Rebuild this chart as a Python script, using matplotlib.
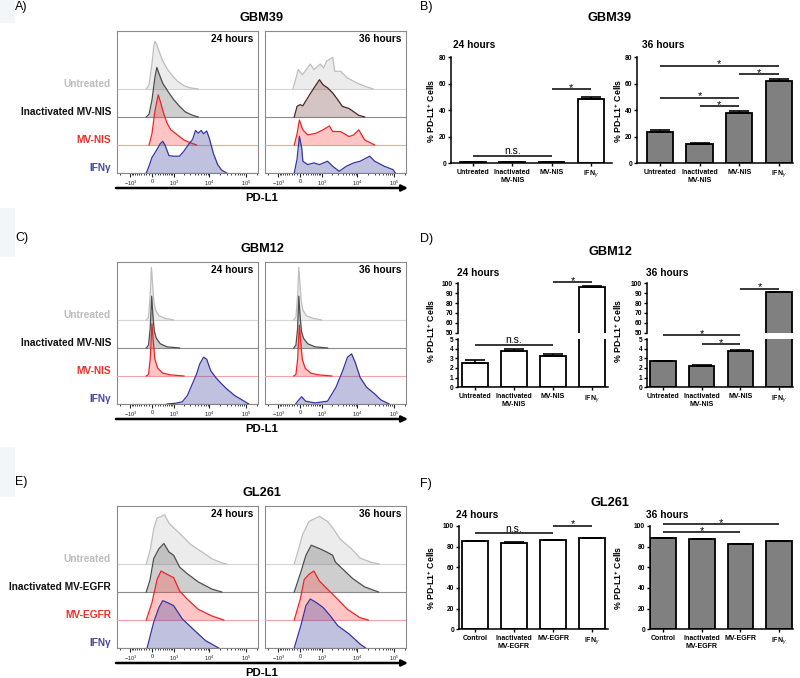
import numpy as np
import matplotlib
matplotlib.use('Agg')
import matplotlib.pyplot as plt
from matplotlib.ticker import FixedLocator
from matplotlib.patches import FancyArrowPatch, Rectangle
from matplotlib.transforms import blended_transform_factory

plt.rcParams['font.family'] = ['Liberation Sans', 'DejaVu Sans']
plt.rcParams['mathtext.fontset'] = 'custom'
plt.rcParams['mathtext.rm'] = 'Liberation Sans'
plt.rcParams['mathtext.it'] = 'Liberation Sans:italic'
plt.rcParams['mathtext.bf'] = 'Liberation Sans:bold'

# ---------------- histogram data: (PD-L1 value, height in row units) ----------------
gbm39_24h_untreated = [(-200, 0), (-100, 0.15), (0, 0.9), (60, 1.5), (100, 1.70), (150, 1.62), (250, 1.35),
                       (400, 1.0), (600, 0.72), (800, 0.55), (1000, 0.42), (1300, 0.28), (2000, 0.12),
                       (3000, 0.04), (5000, 0)]
gbm39_24h_inactivated = [(-200, 0), (-100, 0.1), (0, 0.6), (100, 1.4), (170, 1.77), (250, 1.55), (400, 1.2),
                         (700, 0.86), (1000, 0.62), (1500, 0.38), (2200, 0.18), (3500, 0.06), (5000, 0)]
gbm39_24h_mv = [(-100, 0), (0, 0.4), (100, 1.2), (220, 1.79), (300, 1.55), (450, 1.1), (600, 0.78),
                (800, 0.55), (1500, 0.3), (2000, 0.18), (3000, 0.08), (4500, 0)]
gbm39_24h_ifn = [(-200, 0), (-100, 0.25), (0, 0.55), (150, 0.8), (300, 1.05), (400, 1.13), (500, 1.0),
                 (700, 0.62), (1000, 0.6), (1500, 0.6), (2000, 0.78), (2800, 1.05), (3500, 1.2), (4200, 1.52),
                 (5000, 1.42), (6000, 1.52), (7000, 1.40), (8500, 1.5), (10000, 1.25), (13000, 0.7),
                 (17000, 0.3), (22000, 0.1), (30000, 0)]

gbm39_36h_untreated = [(-250, 0), (-150, 0.35), (-60, 0.69), (90, 0.51), (380, 0.89), (550, 0.69), (900, 0.89),
                       (1150, 0.75), (1400, 0.99), (2100, 1.13), (2400, 0.63), (3500, 0.63), (5400, 0.39),
                       (10000, 0.21), (16000, 0.1), (27000, 0)]
gbm39_36h_inactivated = [(-200, 0), (-100, 0.38), (0, 0.44), (100, 0.4), (400, 0.86), (850, 1.33), (1100, 1.15),
                         (1500, 1.04), (2100, 0.86), (2900, 0.62), (3900, 0.38), (6000, 0.3), (11000, 0.06),
                         (16000, 0)]
gbm39_36h_mv = [(-200, 0), (-100, 0.4), (-20, 0.89), (100, 0.54), (280, 0.36), (650, 0.42), (1100, 0.54),
                (1700, 0.68), (2100, 0.48), (3500, 0.48), (6000, 0.3), (8000, 0.36), (11000, 0.54),
                (16000, 0.18), (30000, 0)]
gbm39_36h_ifn = [(-200, 0), (-100, 0.5), (-20, 1.31), (60, 0.9), (100, 0.42), (280, 0.3), (530, 0.36),
                 (850, 0.3), (1500, 0.42), (2100, 0.24), (3200, 0.06), (5000, 0.24), (8000, 0.36),
                 (12000, 0.42), (22000, 0.6), (30000, 0.42), (55000, 0.24), (95000, 0.12), (110000, 0)]

gbm12_24h_untreated = [(-200, 0), (-120, 0.1), (-60, 0.9), (-20, 1.88), (20, 1.3), (60, 0.7), (120, 0.35),
                       (250, 0.15), (500, 0.06), (1000, 0)]
gbm12_24h_inactivated = [(-200, 0), (-120, 0.1), (-60, 0.7), (-10, 1.85), (30, 1.2), (80, 0.6), (150, 0.35),
                         (300, 0.15), (600, 0.04), (1500, 0)]
gbm12_24h_mv = [(-200, 0), (-120, 0.05), (-60, 0.6), (0, 1.87), (50, 1.2), (100, 0.6), (200, 0.28),
                (400, 0.1), (800, 0.04), (2000, 0)]
gbm12_24h_ifn = [(600, 0), (1200, 0.03), (1800, 0.08), (2500, 0.3), (3000, 0.54), (4500, 1.07), (5500, 1.43),
                 (7000, 1.67), (8500, 1.6), (11000, 1.19), (15000, 0.95), (20000, 0.77), (30000, 0.54),
                 (50000, 0.3), (85000, 0.12), (120000, 0)]

gbm12_36h_untreated = [(-220, 0), (-140, 0.1), (-80, 0.9), (-40, 1.88), (0, 1.3), (40, 0.7), (100, 0.35),
                       (230, 0.15), (500, 0.06), (1000, 0)]
gbm12_36h_inactivated = [(-220, 0), (-140, 0.1), (-80, 0.7), (-40, 1.85), (0, 1.2), (50, 0.6), (120, 0.35),
                         (280, 0.15), (600, 0.04), (1500, 0)]
gbm12_36h_mv = [(-220, 0), (-140, 0.05), (-80, 0.6), (-20, 1.81), (30, 1.2), (80, 0.6), (180, 0.28),
                (400, 0.1), (800, 0.04), (2000, 0)]
gbm12_36h_ifn = [(-150, 0), (-60, 0.12), (60, 0.26), (200, 0.1), (600, 0.04), (1500, 0.1), (2600, 0.6),
                 (4000, 1.19), (5400, 1.67), (7000, 1.79), (8800, 1.49), (12000, 0.95), (18000, 0.6),
                 (30000, 0.36), (45000, 0.14), (75000, 0)]

gl261_24h_untreated = [(-200, 0), (-50, 0.54), (60, 1.25), (180, 1.64), (350, 1.7), (480, 1.76), (700, 1.46),
                       (1000, 1.29), (1800, 1.0), (3000, 0.71), (6500, 0.42), (12000, 0.18), (22000, 0.04),
                       (30000, 0)]
gl261_24h_inactivated = [(-200, 0), (-70, 0.42), (60, 1.19), (250, 1.55), (450, 1.73), (700, 1.43),
                         (1000, 1.31), (1500, 0.89), (2500, 0.65), (5000, 0.36), (12000, 0.1), (22000, 0)]
gl261_24h_mv = [(-200, 0), (0, 0.62), (180, 1.45), (330, 1.75), (600, 1.63), (1000, 1.51), (1500, 1.04),
                (2500, 0.74), (5000, 0.38), (12000, 0.14), (25000, 0)]
gl261_24h_ifn = [(-170, 0), (60, 0.92), (250, 1.45), (400, 1.69), (600, 1.63), (1000, 1.51), (1800, 1.04),
                 (4000, 0.62), (8000, 0.26), (15000, 0.06), (18000, 0)]

gl261_36h_untreated = [(-200, 0), (-20, 0.63), (90, 1.05), (330, 1.52), (850, 1.7), (1500, 1.52), (2100, 1.29),
                       (3500, 0.87), (7000, 0.54), (12000, 0.21), (24000, 0.06), (40000, 0)]
gl261_36h_inactivated = [(-200, 0), (30, 0.71), (210, 1.31), (420, 1.67), (850, 1.55), (1400, 1.43),
                         (2100, 1.31), (2500, 1.07), (3500, 0.89), (7500, 0.48), (16000, 0.18), (38000, 0)]
gl261_36h_mv = [(-200, 0), (10, 0.74), (150, 1.45), (330, 1.63), (540, 1.75), (850, 1.39), (1500, 1.1),
                (2900, 0.74), (5400, 0.38), (12000, 0.08), (20000, 0)]
gl261_36h_ifn = [(-200, 0), (30, 0.8), (210, 1.51), (380, 1.75), (650, 1.63), (1100, 1.45), (1800, 1.15),
                 (2900, 0.8), (6000, 0.5), (12000, 0.14), (17000, 0)]

names_nis = ['Untreated', 'Inactivated MV-NIS', 'MV-NIS', 'IFNγ']
names_egfr = ['Untreated', 'Inactivated MV-EGFR', 'MV-EGFR', 'IFNγ']
hist_ticks = [-1e3, 0, 1e3, 1e4, 1e5]
hist_ticklabels = [r'$-10^3$', '0', r'$10^3$', r'$10^4$', r'$10^5$']

# ---------------- bar data ----------------
bar_labels_nis = ['Untreated', 'Inactivated\nMV-NIS', 'MV-NIS', r'IFN$_\gamma$']
bar_labels_egfr = ['Control', 'Inactivated\nMV-EGFR', 'MV-EGFR', r'IFN$_\gamma$']

gbm39_24h_pct = [0.8, 0.8, 0.7, 48.6]
gbm39_24h_err = [0.1, 0.1, 0.1, 1.3]
gbm39_36h_pct = [23.5, 14.7, 37.5, 62.3]
gbm39_36h_err = [1.3, 0.3, 1.7, 1.5]
gbm12_24h_pct = [2.55, 3.76, 3.28, 96.6]
gbm12_24h_err = [0.28, 0.17, 0.13, 0.5]
gbm12_36h_pct = [2.72, 2.24, 3.76, 90.7]
gbm12_36h_err = [0.05, 0.1, 0.1, 0.5]
gl261_24h_pct = [85.0, 84.0, 86.0, 88.0]
gl261_24h_err = [0.4, 0.3, 0.4, 0.3]
gl261_36h_pct = [88.0, 87.4, 82.3, 85.5]
gl261_36h_err = [0.3, 0.4, 0.3, 0.4]

# significance bars: (from bar, to bar, height, text)
gbm39_24h_sig = [(0, 2, 5.1, 'n.s.'), (2, 3, 56, '*')]
gbm39_36h_sig = [(0, 3, 73.7, '*'), (2, 3, 67.3, '*'), (0, 2, 49.4, '*'), (1, 2, 43, '*')]
gbm12_24h_sig_low = [(0, 2, 4.38, 'n.s.')]
gbm12_24h_sig_high = [(2, 3, 101.3, '*')]
gbm12_36h_sig_low = [(0, 2, 5.42, '*'), (1, 2, 4.45, '*')]
gbm12_36h_sig_high = [(2, 3, 94.7, '*')]
gl261_24h_sig = [(0, 2, 92.9, 'n.s.'), (2, 3, 100.3, '*')]
gl261_36h_sig = [(0, 3, 101.6, '*'), (0, 2, 93.9, '*')]

W, H = 800, 678
fig = plt.figure(figsize=(W / 100, H / 100), dpi=100)

line_cols = ['#bdbdbd', '#4d4d4d', '#ec2424', '#3535a0']
fill_cols = [(0.6, 0.6, 0.6, 0.18), (0.45, 0.45, 0.45, 0.35), (1.0, 0.3, 0.3, 0.32), (0.3, 0.3, 0.65, 0.35)]
base_cols = ['#d6d6d6', '#8c8c8c', '#f3a3a3', '#8a8a8a']
label_cols = ['#bcbcbc', '#111111', '#e8302a', '#4646a8']

# faint scan patches at the left margin
for y0, y1 in ((0, 23), (208, 257), (447, 497)):
    fig.patches.append(Rectangle((0, 1 - y1 / H), 15 / W, (y1 - y0) / H, transform=fig.transFigure,
                                 color='#f3f6f8', lw=0, zorder=-5))


def px_axes(x0, y0, x1, y1):
    return fig.add_axes([x0 / W, 1 - y1 / H, (x1 - x0) / W, (y1 - y0) / H])


def fig_text(x, y, s, **kw):
    fig.text(x / W, 1 - y / H, s, **kw)


def hist_box(x0, top, curves, hours, lcols, fcols):
    ax = px_axes(x0, top, x0 + 141, top + 142)
    ax.set_xscale('asinh', linear_width=546)
    ax.set_xlim(-2430, 2.15e5)
    ax.set_ylim(0, 5.07)
    for i, pts in enumerate(curves):
        row = 3 - i
        xs = [p[0] for p in pts]
        hs = [row + p[1] for p in pts]
        ax.axhline(row, color=base_cols[i], lw=0.8, zorder=2 + i)
        ax.fill_between(xs, row, hs, color=fcols[i], lw=0, zorder=2 + i)
        ax.plot(xs, hs, color=lcols[i], lw=0.9, zorder=2 + i)
    ax.xaxis.set_major_locator(FixedLocator(hist_ticks))
    ax.set_xticklabels(hist_ticklabels)
    minor = ([-2000] + [-100 * k for k in range(1, 10)] + [100 * k for k in range(1, 10)]
             + [1000 * k for k in range(2, 10)] + [10000 * k for k in range(2, 10)] + [2e5])
    ax.xaxis.set_minor_locator(FixedLocator(minor))
    ax.tick_params(axis='x', which='major', length=3, width=0.8, pad=1.2, labelsize=4, colors='#222222')
    ax.tick_params(axis='x', which='minor', length=1.6, width=0.6, colors='#222222')
    ax.tick_params(axis='y', left=False, labelleft=False)
    for s in ax.spines.values():
        s.set_color('#8a8a8a')
        s.set_linewidth(0.8)
    ax.text(0.965, 0.944, hours, transform=ax.transAxes, ha='right', va='center',
            fontsize=7.3, fontweight='bold')
    return ax


def hist_panel(top, letter, title, names, curves_24, curves_36, lcols_36=None, fcols_36=None):
    bottom = top + 142
    fig_text(15, top - 24, letter, fontsize=9, ha='left', va='center')
    fig_text(262, top - 13, title, fontsize=9.2, fontweight='bold', ha='center', va='center')
    ax = hist_box(117, top, curves_24, '24 hours', line_cols, fill_cols)
    hist_box(265, top, curves_36, '36 hours', lcols_36 or line_cols, fcols_36 or fill_cols)
    tr = blended_transform_factory(ax.transAxes, ax.transData)
    for i, name in enumerate(names):
        ax.text(-6 / 141, 3 - i + 0.18, name, transform=tr, ha='right', va='center',
                fontsize=7.3, fontweight='bold', color=label_cols[i])
    arr = FancyArrowPatch((116 / W, 1 - (bottom + 15) / H), (408 / W, 1 - (bottom + 15) / H),
                          transform=fig.transFigure, arrowstyle='-|>', mutation_scale=9,
                          lw=1.8, color='k', shrinkA=0, shrinkB=0)
    fig.patches.append(arr)
    fig_text(262, bottom + 25, 'PD-L1', fontsize=8.2, fontweight='bold', ha='center', va='center')


def style_bar_axes(ax, show_x=True):
    for side in ('top', 'right'):
        ax.spines[side].set_visible(False)
    ax.spines['left'].set_linewidth(1.1)
    ax.spines['bottom'].set_linewidth(1.1)
    ax.tick_params(axis='y', length=2.5, width=1.0, pad=1.0, labelsize=4.8)
    ax.tick_params(axis='x', length=2, width=1.0, pad=2, labelsize=5)
    for lab in ax.get_yticklabels() + ax.get_xticklabels():
        lab.set_fontweight('bold')
    if not show_x:
        ax.spines['bottom'].set_visible(False)
        ax.tick_params(axis='x', bottom=False, labelbottom=False)


def draw_bars(ax, vals, errs, face, labels, xlim, ylim, yticks, show_x=True):
    xs = np.arange(len(vals))
    ax.bar(xs, vals, width=0.66, color=face, edgecolor='k', linewidth=1.3,
           yerr=[np.zeros(len(errs)), errs], capsize=7,
           error_kw=dict(elinewidth=1.1, capthick=1.2, ecolor='k'))
    ax.set_xlim(*xlim)
    ax.set_ylim(*ylim)
    ax.set_yticks(yticks)
    ax.set_xticks(xs)
    ax.set_xticklabels(labels)
    style_bar_axes(ax, show_x)


def draw_sig(ax, sigs):
    for a, b, y, txt in sigs:
        ax.plot([a, b], [y, y], color='k', lw=1.1, clip_on=False, solid_capstyle='butt')
        if txt == '*':
            ax.annotate('*', (0.5 * (a + b), y), xytext=(0, -1.2), textcoords='offset points',
                        ha='center', va='baseline', fontsize=8, annotation_clip=False)
        else:
            ax.annotate(txt, (0.5 * (a + b), y), xytext=(0, 1.3), textcoords='offset points',
                        ha='center', va='baseline', fontsize=7.5, annotation_clip=False)


ylab = r'% PD-L1$^{\mathbf{+}}$ Cells'

# ---------------- A / C / E: histograms ----------------
brown_lines = ['#bdbdbd', '#4b2424', '#ec2424', '#3535a0']
brown_fills = [fill_cols[0], (0.5, 0.3, 0.3, 0.33), fill_cols[2], fill_cols[3]]
hist_panel(31, 'A)', 'GBM39', names_nis,
           [gbm39_24h_untreated, gbm39_24h_inactivated, gbm39_24h_mv, gbm39_24h_ifn],
           [gbm39_36h_untreated, gbm39_36h_inactivated, gbm39_36h_mv, gbm39_36h_ifn],
           brown_lines, brown_fills)
hist_panel(262, 'C)', 'GBM12', names_nis,
           [gbm12_24h_untreated, gbm12_24h_inactivated, gbm12_24h_mv, gbm12_24h_ifn],
           [gbm12_36h_untreated, gbm12_36h_inactivated, gbm12_36h_mv, gbm12_36h_ifn])
hist_panel(506, 'E)', 'GL261', names_egfr,
           [gl261_24h_untreated, gl261_24h_inactivated, gl261_24h_mv, gl261_24h_ifn],
           [gl261_36h_untreated, gl261_36h_inactivated, gl261_36h_mv, gl261_36h_ifn])

# ---------------- B: GBM39 bars ----------------
fig_text(420, 7, 'B)', fontsize=9, ha='left', va='center')
fig_text(610, 18, 'GBM39', fontsize=9.2, fontweight='bold', ha='center', va='center')
ax = px_axes(451, 57.3, 612, 163)
draw_bars(ax, gbm39_24h_pct, gbm39_24h_err, 'white', bar_labels_nis, (-0.56, 3.54), (0, 80), [0, 20, 40, 60, 80])
draw_sig(ax, gbm39_24h_sig)
ax = px_axes(637, 57.3, 793, 163)
draw_bars(ax, gbm39_36h_pct, gbm39_36h_err, '#808080', bar_labels_nis, (-0.58, 3.36), (0, 80), [0, 20, 40, 60, 80])
draw_sig(ax, gbm39_36h_sig)
fig_text(453, 45, '24 hours', fontsize=7.3, fontweight='bold', ha='left', va='center')
fig_text(642, 45, '36 hours', fontsize=7.3, fontweight='bold', ha='left', va='center')
fig_text(431, 111, ylab, fontsize=6.3, fontweight='bold', rotation=90, ha='center', va='center')
fig_text(618, 111, ylab, fontsize=6.3, fontweight='bold', rotation=90, ha='center', va='center')

# ---------------- D: GBM12 bars (broken axis) ----------------
fig_text(420, 239, 'D)', fontsize=9, ha='left', va='center')
fig_text(610, 252, 'GBM12', fontsize=9.2, fontweight='bold', ha='center', va='center')
for x0, x1, xlim, vals, errs, face, sig_low, sig_high in (
        (458, 608, (-0.44, 3.41), gbm12_24h_pct, gbm12_24h_err, 'white', gbm12_24h_sig_low, gbm12_24h_sig_high),
        (647, 793, (-0.41, 3.36), gbm12_36h_pct, gbm12_36h_err, '#808080', gbm12_36h_sig_low, gbm12_36h_sig_high)):
    ax_hi = px_axes(x0, 283.3, x1, 332.7)
    draw_bars(ax_hi, vals, errs, face, bar_labels_nis, xlim, (50, 100), [50, 60, 70, 80, 90, 100], show_x=False)
    draw_sig(ax_hi, sig_high)
    ax_lo = px_axes(x0, 339, x1, 387.3)
    draw_bars(ax_lo, vals, errs, face, bar_labels_nis, xlim, (0, 5), [0, 1, 2, 3, 4, 5])
    draw_sig(ax_lo, sig_low)
fig_text(457, 273, '24 hours', fontsize=7.3, fontweight='bold', ha='left', va='center')
fig_text(646, 273, '36 hours', fontsize=7.3, fontweight='bold', ha='left', va='center')
fig_text(431, 331, ylab, fontsize=6.3, fontweight='bold', rotation=90, ha='center', va='center')
fig_text(618, 331, ylab, fontsize=6.3, fontweight='bold', rotation=90, ha='center', va='center')

# ---------------- F: GL261 bars ----------------
fig_text(420, 484, 'F)', fontsize=9, ha='left', va='center')
fig_text(610, 503, 'GL261', fontsize=9.2, fontweight='bold', ha='center', va='center')
ax = px_axes(459, 526, 608, 629.3)
draw_bars(ax, gl261_24h_pct, gl261_24h_err, 'white', bar_labels_egfr, (-0.41, 3.41), (0, 100), [0, 20, 40, 60, 80, 100])
draw_sig(ax, gl261_24h_sig)
ax = px_axes(650, 526, 793, 629.3)
draw_bars(ax, gl261_36h_pct, gl261_36h_err, '#808080', bar_labels_egfr, (-0.34, 3.36), (0, 100), [0, 20, 40, 60, 80, 100])
draw_sig(ax, gl261_36h_sig)
fig_text(456, 515, '24 hours', fontsize=7.3, fontweight='bold', ha='left', va='center')
fig_text(646, 515, '36 hours', fontsize=7.3, fontweight='bold', ha='left', va='center')
fig_text(431, 578, ylab, fontsize=6.3, fontweight='bold', rotation=90, ha='center', va='center')
fig_text(618, 578, ylab, fontsize=6.3, fontweight='bold', rotation=90, ha='center', va='center')

fig.savefig('out.png', dpi=100, facecolor='white')
